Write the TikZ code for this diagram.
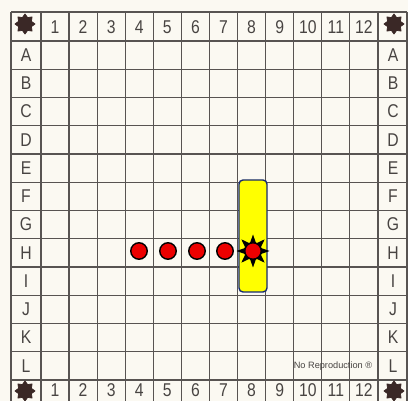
\documentclass[tikz,border=0pt]{standalone}
\usepackage{fontspec}
\setmainfont{Liberation Sans}
\newfontfamily\lblfont[FakeStretch=0.85]{Liberation Sans}
\usetikzlibrary{shapes.geometric}
\definecolor{paper}{RGB}{251,249,242}
\definecolor{gridc}{RGB}{88,84,82}
\definecolor{ink}{RGB}{72,68,66}
\definecolor{stardark}{RGB}{58,40,38}
\definecolor{navy}{RGB}{22,42,112}
\definecolor{hitred}{RGB}{236,0,0}
\definecolor{shipyellow}{RGB}{255,255,0}
\begin{document}
\begin{tikzpicture}[x=1pt,y=-1pt,
  lbl/.style={font=\lblfont\fontsize{18.5}{18.5}\selectfont, text=ink, inner sep=0pt},
  cornerstar/.style={star, star points=8, star point ratio=1.45, minimum size=20pt, inner sep=0pt, fill=stardark, draw=stardark, line width=0.8pt, line join=round},
  peg/.style={circle, fill=hitred, draw=black, line width=1.4pt, minimum size=16.5pt, inner sep=0pt},
  ship/.style={rectangle, rounded corners=4pt, fill=shipyellow, draw=navy, line width=1.4pt, minimum width=28pt, minimum height=112pt, inner sep=0pt},
  blast/.style={star, star points=8, star point ratio=2.0, minimum size=33pt, inner sep=0pt, fill=black},
  gridline/.style={draw=gridc, line width=1.2pt},
  note/.style={font=\fontsize{9.2}{9.2}\selectfont, text=ink, inner sep=0pt}
]
\useasboundingbox (0,0) rectangle (408,401);
\clip (0,0) rectangle (408,401);
\fill[paper] (0,0) rectangle (408,401);
% grid
\foreach \k in {0,...,12} {
  \draw[gridline] ({41+28.08*\k},12) -- ({41+28.08*\k},405);
  \draw[gridline] (11,{41+28.25*\k}) -- (407,{41+28.25*\k});
}
\draw[gridline] (11,12) -- (407,12);
\draw[gridline] (11,12) -- (11,405);
\draw[gridline] (407,12) -- (407,405);
% column numbers
\foreach \k in {1,...,12} {
  \node[lbl] (top\k) at ({41+28.08*(\k-0.5)},27) {\k};
  \node[lbl] (bot\k) at ({41+28.08*(\k-0.5)},390.5) {\k};
}
% row letters
\foreach \L [count=\j] in {A,B,C,D,E,F,G,H,I,J,K,L} {
  \node[lbl] (left\L) at (26,{41+28.25*(\j-0.5)}) {\L};
  \node[lbl] (right\L) at (393,{41+28.25*(\j-0.5)}) {\L};
}
% corner stars
\node[cornerstar] (starTL) at (25,24) {};
\node[cornerstar] (starTR) at (394,24) {};
\node[cornerstar] (starBL) at (25,391) {};
\node[cornerstar] (starBR) at (394,391) {};
% note
\node[note] (noreprod) at (333,366) {No Reproduction ®};
% ship
\node[ship] (shipbox) at (253,236) {};
% pegs
\node[peg] (h4) at (139,251) {};
\node[peg] (h5) at (168,251) {};
\node[peg] (h6) at (197,251) {};
\node[peg] (h7) at (225,251) {};
% hit
\node[blast] (hitstar) at (253,251) {};
\node[peg] (h8) at (253,251) {};
\end{tikzpicture}
\end{document}
